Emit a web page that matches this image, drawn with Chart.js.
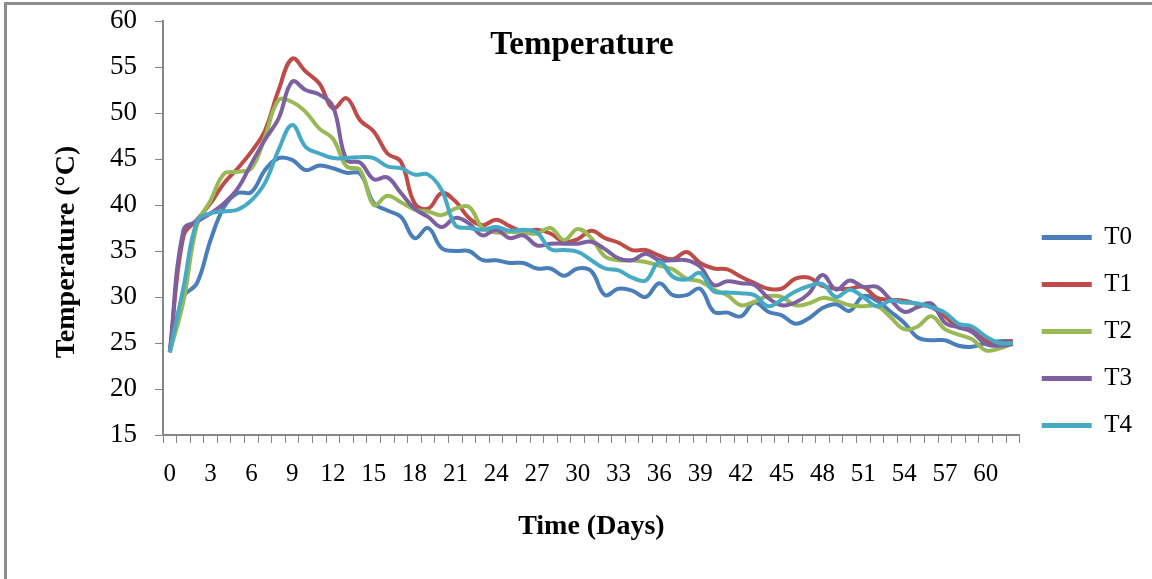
<!DOCTYPE html>
<html>
<head>
<meta charset="utf-8">
<script src="https://cdn.jsdelivr.net/npm/chart.js@4"></script>
<style>
  html, body { margin: 0; padding: 0; background: #fff; }
  #wrap { position: relative; width: 1152px; height: 579px; overflow: hidden; }
  #frame { position: absolute; left: 4px; top: 2px; right: -10px; bottom: -10px; border-left: 3px solid #8c8c8c; border-top: 3px solid #8c8c8c; pointer-events: none; }
</style>
</head>
<body>
<div id="wrap">
  <canvas id="tempChart" width="1152" height="579"></canvas>
  <div id="frame"></div>
</div>
<script>
// Temperature readings per day (0..62) for the five treatments
const days = Array.from({ length: 63 }, (_, i) => String(i));
const seriesNames = ['T0', 'T1', 'T2', 'T3', 'T4'];
const seriesColors = ['#4A7EBB', '#BE4B48', '#98B954', '#7D60A0', '#46AAC5'];

const t0 = [24, 30, 31.5, 36.2, 39.8, 41.3, 41.4, 43.8, 45.1, 44.9,
    43.8, 44.3, 44.0, 43.5, 43.4, 40.2, 39.4, 38.7, 36.4, 37.5,
    35.3, 35.0, 35.0, 34.0, 34.0, 33.7, 33.7, 33.1, 33.1, 32.3,
    33.1, 32.8, 30.2, 30.9, 30.7, 30.0, 31.5, 30.2, 30.2, 30.9,
    28.4, 28.3, 27.9, 29.4, 28.4, 28.0, 27.1, 27.7, 28.8, 29.2,
    28.5, 30.1, 29.6, 28.4, 27.2, 25.6, 25.3, 25.3, 24.7, 24.6,
    25.0, 25.2, 25.2];
const t1 = [24, 36.6, 38.4, 40.2, 42.4, 44.0, 45.8, 48.1, 52.5, 55.9,
    54.5, 53.2, 50.5, 51.6, 49.2, 48.0, 45.6, 44.7, 40.2, 39.6,
    41.3, 40.4, 38.6, 37.8, 38.4, 37.7, 37.1, 37.3, 36.9, 36.0,
    36.3, 37.2, 36.4, 35.9, 35.1, 35.1, 34.5, 34.1, 34.9, 33.7,
    33.1, 33.0, 32.2, 31.5, 30.9, 30.9, 32.0, 32.1, 31.2, 30.9,
    30.9, 31.1, 29.9, 29.7, 29.6, 29.2, 28.9, 27.9, 26.7, 26.5,
    25.3, 25.0, 25.2];
const t2 = [24, 29.5, 37.8, 40.5, 43.4, 43.6, 44.0, 47.4, 51.4, 51.2,
    50.1, 48.3, 47.2, 44.2, 43.8, 40.0, 41.0, 40.3, 39.5, 39.3,
    38.9, 39.6, 39.8, 37.5, 37.0, 37.1, 37.0, 36.9, 37.5, 36.2,
    37.4, 36.4, 34.4, 34.0, 34.0, 33.8, 33.4, 33.0, 32.0, 31.7,
    30.8, 30.2, 29.1, 29.5, 30.1, 30.0, 29.1, 29.3, 29.9, 29.6,
    29.1, 29.0, 29.0, 27.8, 26.5, 26.8, 27.9, 26.5, 25.9, 25.4,
    24.2, 24.4, 24.9];
const t3 = [24, 37.3, 38.2, 39.1, 40.2, 41.8, 44.5, 47.1, 49.4, 53.4,
    52.5, 52.0, 50.7, 44.9, 44.6, 42.8, 43.0, 41.3, 39.6, 38.7,
    37.6, 38.6, 38.0, 36.7, 37.3, 36.4, 36.7, 35.6, 35.8, 35.8,
    35.8, 36.0, 35.2, 34.2, 34.0, 34.7, 34.0, 34.0, 34.0, 33.3,
    31.3, 31.7, 31.5, 31.3, 29.9, 29.1, 29.4, 30.4, 32.4, 30.8,
    31.8, 31.1, 31.1, 29.7, 28.4, 28.9, 29.3, 27.2, 26.7, 26.2,
    24.9, 24.7, 24.9];
const t4 = [24, 31, 38.2, 39.1, 39.3, 39.5, 40.5, 42.4, 46.0, 48.7,
    46.3, 45.6, 45.1, 45.1, 45.2, 45.1, 44.2, 44.0, 43.3, 43.3,
    41.6, 37.8, 37.5, 37.3, 37.6, 37.2, 37.3, 37.0, 35.2, 35.1,
    34.9, 34.0, 33.1, 32.9, 32.1, 31.8, 33.8, 32.2, 31.9, 32.6,
    30.6, 30.5, 30.4, 30.2, 29.0, 29.7, 30.6, 31.2, 31.4, 30.0,
    30.8, 30.0, 29.0, 29.6, 29.4, 29.3, 28.9, 28.3, 27.1, 26.8,
    25.7, 25.0, 25.0];
const seriesValues = [t0, t1, t2, t3, t4];

const yTicks = [15, 20, 25, 30, 35, 40, 45, 50, 55, 60];
const chartTitle = 'Temperature';
const xTitle = 'Time (Days)';
const yTitle = 'Temperature (\u00B0C)';

Chart.defaults.font.family = '"Liberation Serif", "Times New Roman", serif';
Chart.defaults.color = '#000';

const axisGray = '#868686';

// chart title and y title are drawn in place, inside the frame
const titlesPlugin = {
    id: 'titles',
    afterDraw(chart) {
        const ctx = chart.ctx;
        ctx.save();
        ctx.fillStyle = '#000';
        ctx.textAlign = 'center';
        ctx.textBaseline = 'alphabetic';
        ctx.font = 'bold 33px "Liberation Serif"';
        ctx.fillText(chartTitle, 582, 54);
        ctx.translate(74, 252);
        ctx.rotate(-Math.PI / 2);
        ctx.font = 'bold 28px "Liberation Serif"';
        ctx.fillText(yTitle, 0, 0);
        ctx.restore();
    }
};

const datasets = seriesNames.map((name, i) => ({
    label: name,
    data: seriesValues[i],
    borderColor: seriesColors[i],
    backgroundColor: seriesColors[i],
    borderWidth: 4,
    pointRadius: 0,
    tension: 0.4,
    fill: false,
    order: seriesNames.length - i
}));

const ctx = document.getElementById('tempChart').getContext('2d');
window.tempChart = new Chart(ctx, {
    type: 'line',
    data: { labels: days, datasets: datasets },
    plugins: [titlesPlugin],
    options: {
        responsive: false,
        animation: false,
        devicePixelRatio: 1,
        layout: { padding: { top: 21, right: 10, bottom: 0, left: 0 } },
        plugins: {
            tooltip: { enabled: false },
            legend: {
                position: 'right',
                align: 'start',
                title: { display: true, text: '', font: { size: 10 }, padding: { top: 170, bottom: 0 } },
                labels: {
                    boxWidth: 50,
                    boxHeight: 5,
                    padding: 22,
                    font: { size: 25 },
                    color: '#000',
                    sort: (a, b) => a.datasetIndex - b.datasetIndex,
                    generateLabels(chart) {
                        return Chart.defaults.plugins.legend.labels.generateLabels(chart)
                            .map(l => ({ ...l, lineWidth: 0 }));
                    }
                }
            }
        },
        scales: {
            x: {
                type: 'category',
                offset: true,
                afterFit(scale) { scale.height = 144; },
                grid: { drawOnChartArea: false, drawTicks: true, tickLength: 8, tickColor: axisGray, offset: true },
                border: { display: true, color: axisGray, width: 2 },
                ticks: {
                    autoSkip: false,
                    maxRotation: 0,
                    padding: 16,
                    font: { size: 25 },
                    callback(value, index) { return index % 3 === 0 ? days[index] : ''; }
                },
                title: { display: true, text: xTitle, font: { size: 28, weight: 'bold' }, padding: { top: 0, bottom: 35 } }
            },
            y: {
                min: yTicks[0],
                max: yTicks[yTicks.length - 1],
                afterFit(scale) {
                    scale.width = 163;
                    scale.paddingTop = 0;
                    scale.paddingBottom = 0;
                },
                afterBuildTicks(scale) { scale.ticks = yTicks.map(v => ({ value: v })); },
                grid: { drawOnChartArea: false, drawTicks: true, tickLength: 8, tickColor: axisGray },
                border: { display: true, color: axisGray, width: 2 },
                ticks: { padding: 18, font: { size: 27 } }
            }
        }
    }
});
</script>
</body>
</html>
